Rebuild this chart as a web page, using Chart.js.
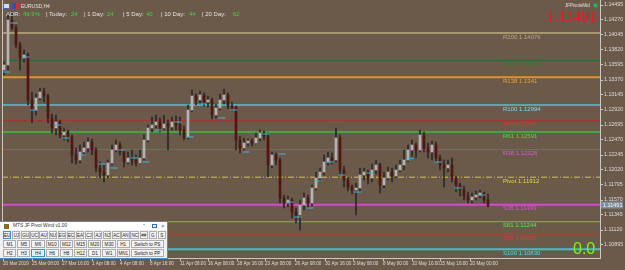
<!DOCTYPE html>
<html>
<head>
<meta charset="utf-8">
<script src="https://cdn.jsdelivr.net/npm/chart.js@4.4.1/dist/chart.umd.min.js"></script>
<style>
  body { margin: 0; background: #6b5a49; font-family: "Liberation Sans", Arial, sans-serif; }
  #wrap { position: relative; width: 625px; height: 270px; overflow: hidden; background: #6b5a49; }
  #priceChart { position: absolute; left: 0; top: 0; }
  .t { position: absolute; white-space: nowrap; line-height: 1; }
  .lbl { color: #e2e2e2; }
  .num { color: #3fd43f; }
  .adr { top: 11px; font-size: 6px; }
  #panel { position: absolute; left: 0; top: 221px; width: 167px; height: 36px; background: #f0f0f0; border: 1px solid #3a8ee6; border-left: none; }
  #panel .title { position: absolute; left: 0; top: 0; width: 167px; height: 8px; background: #fff; }
  .btn { position: absolute; box-sizing: border-box; background: #f3f3f3; border: 1px solid #adadad; color: #222; font-size: 4.6px; text-align: center; line-height: 7px; height: 8.5px; white-space: nowrap; overflow: hidden; }
  .btn.on { border-color: #3c8fdc; background: #e4f0fb; }
</style>
</head>
<body>
<div id="wrap">
  <canvas id="priceChart" width="625" height="270"></canvas>

  <div class="t" style="left:3px;top:3px;width:7px;height:6px;background:#d8d8f0;border:1px solid #5060b0;box-sizing:border-box"></div>
  <div class="t" style="left:12px;top:3px;width:7px;height:6px;background:#3050c0;border-right:3px solid #d03030;box-sizing:border-box"></div>
  <div class="t lbl" style="left:21px;top:4px;font-size:5px">EURUSD,H4</div>

  <div class="t lbl adr" style="left:6px">ADR:</div>
  <div class="t num adr" style="left:23px">49.9%</div>
  <div class="t lbl adr" style="left:46px">| Today:</div>
  <div class="t num adr" style="left:71px">24</div>
  <div class="t lbl adr" style="left:84px">| 1 Day:</div>
  <div class="t num adr" style="left:107px">24</div>
  <div class="t lbl adr" style="left:123px">| 5 Day:</div>
  <div class="t num adr" style="left:146px">40</div>
  <div class="t lbl adr" style="left:161px">| 10 Day:</div>
  <div class="t num adr" style="left:189px">44</div>
  <div class="t lbl adr" style="left:202px">| 20 Day:</div>
  <div class="t num adr" style="left:233px">62</div>

  <div class="t lbl" style="left:565px;top:4px;font-size:4.5px">JFPivotsMtd</div>
  <div class="t" style="left:593px;top:3px;width:5px;height:5px;background:#40b040;border:1px solid #2a6fd0;box-sizing:border-box"></div>
  <div class="t" style="left:547px;top:8px;font-size:15.5px;color:#ff1010;font-family:'Liberation Serif','Times New Roman',serif">1.11491</div>
  <div class="t" style="left:573px;top:241px;font-size:16px;color:#7cfc00">0.0</div>

  <div id="panel">
    <div class="title">
      <div class="t" style="left:4px;top:1.5px;width:5px;height:5px;background:#8a6a20"></div>
      <div class="t" style="left:13px;top:2px;font-size:4.8px;color:#333">MTS JF Pivot Wind v1.00</div>
      <div class="t" style="left:143px;top:1px;font-size:6px;color:#2a6fd0">&#710;</div>
      <div class="t" style="left:152px;top:1.5px;width:5px;height:4px;border:1px solid #2a6fd0;box-sizing:border-box"></div>
      <div class="t" style="left:161px;top:1px;font-size:6px;color:#2a6fd0">&#215;</div>
    </div>
  </div>
</div>
<script>
// EURUSD H4, 20 Mar - 21 May 2019 (one entry per drawn candle)
const firstOpen = 1.1352;
const closes = [
  1.13595, 1.1427, 1.1415, 1.13895, 1.137, 1.13745, 1.1307, 1.1292, 1.131, 1.1319,
  1.1313, 1.128, 1.1265, 1.1274, 1.12545, 1.1259, 1.12515, 1.12245, 1.1217, 1.1229,
  1.1235, 1.1244, 1.1232, 1.1205, 1.1199, 1.11945, 1.12125, 1.1232, 1.12395, 1.1229,
  1.1214, 1.122, 1.1217, 1.12125, 1.122, 1.1247, 1.1265, 1.12695, 1.1274, 1.1265,
  1.1271, 1.12665, 1.1274, 1.12695, 1.1262, 1.12515, 1.1292, 1.1313, 1.1307, 1.13145,
  1.1304, 1.1307, 1.12845, 1.1295, 1.1307, 1.13145, 1.1298, 1.1295, 1.1247, 1.1235,
  1.12425, 1.12455, 1.12425, 1.125, 1.12575, 1.1253, 1.12095, 1.12245, 1.1217, 1.116,
  1.11525, 1.1157, 1.1139, 1.11345, 1.11495, 1.116, 1.11525, 1.1175, 1.119, 1.1199,
  1.1214, 1.122, 1.1217, 1.125, 1.1202, 1.1187, 1.11765, 1.1172, 1.1175, 1.11945,
  1.1199, 1.119, 1.1202, 1.12095, 1.11795, 1.119, 1.1199, 1.1193, 1.1202, 1.12095,
  1.1217, 1.1232, 1.12395, 1.1232, 1.12545, 1.1235, 1.1229, 1.12395, 1.122, 1.12095,
  1.1205, 1.12095, 1.119, 1.11795, 1.1172, 1.1163, 1.1157, 1.11615, 1.11645, 1.11675,
  1.1157, 1.11491
];
const highs = [
  1.1364, 1.14375, 1.1439, 1.14195, 1.1394, 1.1382, 1.13775, 1.1319, 1.1316, 1.1325,
  1.1325, 1.1316, 1.1286, 1.12845, 1.1277, 1.1265, 1.1262, 1.12545, 1.1235, 1.12395,
  1.1244, 1.125, 1.12485, 1.1235, 1.1214, 1.12095, 1.1217, 1.12395, 1.1247, 1.1244,
  1.1232, 1.1229, 1.1232, 1.12245, 1.1232, 1.12545, 1.12695, 1.12815, 1.12845, 1.128,
  1.12845, 1.1277, 1.12815, 1.1283, 1.12815, 1.1268, 1.12995, 1.1322, 1.1316, 1.13205,
  1.13175, 1.1313, 1.131, 1.1301, 1.1316, 1.13235, 1.13175, 1.1304, 1.1298, 1.1253,
  1.125, 1.12485, 1.12485, 1.12575, 1.1262, 1.12605, 1.12575, 1.1229, 1.12275, 1.122,
  1.11645, 1.1163, 1.116, 1.1145, 1.1157, 1.11675, 1.11645, 1.11795, 1.1199, 1.1205,
  1.12245, 1.1229, 1.12275, 1.1265, 1.12545, 1.1208, 1.11915, 1.11795, 1.11825, 1.1205,
  1.1205, 1.1202, 1.1211, 1.1217, 1.12125, 1.1199, 1.12065, 1.1205, 1.12095, 1.1217,
  1.1232, 1.12395, 1.1247, 1.12425, 1.1262, 1.1259, 1.12425, 1.12455, 1.1244, 1.12245,
  1.1217, 1.1217, 1.122, 1.1193, 1.11825, 1.1178, 1.1169, 1.11675, 1.11705, 1.1172,
  1.1169, 1.1166
];
const lows = [
  1.13445, 1.1352, 1.1412, 1.1385, 1.1352, 1.1364, 1.12995, 1.12725, 1.12845, 1.1307,
  1.1304, 1.12725, 1.12575, 1.12545, 1.125, 1.1247, 1.1244, 1.12125, 1.1211, 1.12125,
  1.12245, 1.1229, 1.12245, 1.1199, 1.119, 1.1184, 1.119, 1.12095, 1.1229, 1.12245,
  1.12065, 1.1211, 1.12095, 1.1208, 1.1211, 1.1217, 1.1244, 1.1259, 1.1265, 1.1259,
  1.1262, 1.1232, 1.1262, 1.1262, 1.12545, 1.1247, 1.12485, 1.1289, 1.12995, 1.1301,
  1.1298, 1.12965, 1.12785, 1.128, 1.1292, 1.1301, 1.12935, 1.12905, 1.1232, 1.12275,
  1.1232, 1.1238, 1.1238, 1.1241, 1.12455, 1.1247, 1.11915, 1.1205, 1.12095, 1.11525,
  1.1145, 1.11465, 1.113, 1.11225, 1.1112, 1.1142, 1.1145, 1.1148, 1.1172, 1.1184,
  1.11945, 1.12095, 1.1211, 1.1214, 1.11945, 1.11765, 1.11705, 1.1166, 1.11345, 1.1169,
  1.1187, 1.1181, 1.1184, 1.1196, 1.11675, 1.1175, 1.1187, 1.1184, 1.119, 1.1199,
  1.1202, 1.1214, 1.1223, 1.122, 1.1229, 1.1229, 1.122, 1.1217, 1.1214, 1.1202,
  1.11765, 1.1199, 1.1184, 1.1169, 1.1163, 1.1157, 1.11525, 1.11525, 1.1157, 1.116,
  1.11525, 1.11465
];
const opens = [firstOpen].concat(closes.slice(0, -1));

// small cyan dashes next to the candles
const markerIdx = [0, 2, 5, 7, 13, 15, 19, 24, 27, 29, 32, 35, 38, 43, 46, 49, 54, 57, 60, 65,
  69, 71, 73, 76, 78, 81, 84, 88, 91, 101, 108, 113, 119];
const markerPrice = [1.1349, 1.14225, 1.13715, 1.1292, 1.12695, 1.125, 1.12245, 1.1211, 1.1205, 1.1232,
  1.122, 1.1214, 1.1262, 1.1274, 1.12515, 1.1301, 1.128, 1.1292, 1.1229, 1.1256,
  1.1226, 1.1154, 1.11315, 1.1145, 1.11855, 1.1214, 1.11945, 1.1169, 1.11975, 1.1219,
  1.1214, 1.1175, 1.11645];

// pivot levels
const levelValues = [1.14076, 1.13663, 1.1341, 1.12994, 1.1276, 1.12591, 1.12326, 1.11912, 1.11499, 1.11244, 1.11062, 1.10830];
const levelLabels = ['R200 1.14076', 'R161 1.13663', 'R138 1.1341', 'R100 1.12994', 'R78 1.1276', 'R61 1.12591',
  'R38 1.12326', 'Pivot 1.11912', 'S38 1.11499', 'S61 1.11244', 'S78 1.11062', 'S100 1.10830'];
const levelColors = ['#a8966c', '#2f6a2f', '#e0961e', '#48b0b0', '#b4302a', '#3caa3c', '#b040b0', '#d8c828', '#e040e0', '#50d050', '#d03030', '#30c8c8'];
const levelText = ['#b8a880', '#2d7a2d', '#e8a030', '#70e0e0', '#e03030', '#40e040', '#e050e0', '#e8d840', '#e050e0', '#50f050', '#f03030', '#40e0e0'];
const levelWidth = [2, 1, 2, 2, 1, 2, 1, 1, 2, 1, 1, 2];

// axes
const priceTicks = [1.14495, 1.14270, 1.14045, 1.13820, 1.13595, 1.13370, 1.13145, 1.12920, 1.12695,
  1.12470, 1.12245, 1.12020, 1.11795, 1.11570, 1.11345, 1.11120, 1.10895];
const timeTickPos = [-0.25, 7, 14.5, 22, 29, 36.5, 44, 51, 58.25, 65.25, 72.75, 80.25, 87.25, 94.75, 102, 109, 116.5];
const timeTickText = ['20 Mar 2019', '25 Mar 08:00', '27 Mar 16:00', '1 Apr 08:00', '4 Apr 08:00', '8 Apr 16:00',
  '11 Apr 08:00', '16 Apr 08:00', '18 Apr 16:00', '23 Apr 08:00', '26 Apr 08:00', '30 Apr 16:00',
  '3 May 08:00', '8 May 00:00', '10 May 16:00', '15 May 16:00', '20 May 00:00'];

// panel buttons
const row1 = ['EU', 'UJ', 'GU', 'UC', 'AU', 'NU', 'EG', 'EC', 'EA', 'CJ', 'AJ', 'NJ', 'AC', 'AN', 'NC', '##', 'G', 'S'];
const row2 = ['M1', 'M5', 'M6', 'M10', 'M12', 'M15', 'M20', 'M30', 'H1', 'Switch to PS'];
const row3 = ['H2', 'H3', 'H4', 'H6', 'H8', 'H12', 'D1', 'W1', 'MN1', 'Switch to PP'];

const panel = document.getElementById('panel');
function addBtn(text, left, top, width, on) {
  const b = document.createElement('div');
  b.className = 'btn' + (on ? ' on' : '');
  b.style.left = left + 'px';
  b.style.top = top + 'px';
  b.style.width = width + 'px';
  b.textContent = text;
  panel.appendChild(b);
}
row1.forEach((t, k) => addBtn(t, 3 + k * 9.1, 8.5, 8.4, t === 'EU'));
row2.forEach((t, k) => addBtn(t, 3 + k * 14.2, 17.5, k === 9 ? 33 : 13.3, false));
row3.forEach((t, k) => addBtn(t, 3 + k * 14.2, 26.5, k === 9 ? 33 : 13.3, t === 'H4'));

const overlay = {
  id: 'overlay',
  afterDatasetsDraw(chart) {
    const { ctx, chartArea: a, scales: { y } } = chart;
    ctx.save();
    ctx.strokeStyle = '#c8c8c8';
    ctx.lineWidth = 1;
    ctx.beginPath();
    ctx.moveTo(a.left + 0.5, a.top);
    ctx.lineTo(a.left + 0.5, a.bottom + 0.5);
    ctx.lineTo(a.right + 0.5, a.bottom + 0.5);
    ctx.stroke();

    ctx.font = '6px "Liberation Sans", Arial';
    ctx.textBaseline = 'middle';
    levelLabels.forEach((t, k) => {
      ctx.fillStyle = levelText[k];
      ctx.fillText(t, 503, y.getPixelForValue(levelValues[k]) + 4);
    });

    const last = closes[closes.length - 1];
    const py = Math.round(y.getPixelForValue(last));
    ctx.fillStyle = '#7f8fa2';
    ctx.fillRect(a.right + 1, py - 3.5, 22, 7);
    ctx.fillStyle = '#f4f4f4';
    ctx.font = '5.5px "Liberation Sans", Arial';
    ctx.fillText(last.toFixed(5), a.right + 3, py);
    ctx.restore();
  }
};

const ctx = document.getElementById('priceChart');
new Chart(ctx, {
  type: 'bar',
  data: {
    datasets: [
      {
        type: 'line',
        data: markerIdx.map((v, i) => ({ x: v + 0.5, y: markerPrice[i] })),
        showLine: false,
        pointStyle: 'line',
        pointRadius: 3.5,
        pointBorderColor: '#38b6e8',
        pointBorderWidth: 1,
        order: 0
      },
      {
        data: closes.map((c, i) => ({ x: i, y: [opens[i], c] })),
        backgroundColor: closes.map((c, i) => c >= opens[i] ? '#b4b4b4' : '#4f1612'),
        barThickness: 2,
        grouped: false,
        order: 1
      },
      {
        data: closes.map((c, i) => ({ x: i, y: [lows[i], highs[i]] })),
        backgroundColor: '#2a2a2a',
        barThickness: 1,
        grouped: false,
        order: 2
      },
      ...levelValues.map((v, k) => ({
        type: 'line',
        data: [{ x: -0.5, y: v }, { x: 149, y: v }],
        borderColor: levelColors[k],
        borderWidth: levelWidth[k],
        borderDash: k === 7 ? [6, 2, 1, 2] : [],
        pointRadius: 0,
        order: 3
      }))
    ]
  },
  options: {
    responsive: false,
    animation: false,
    layout: { autoPadding: false, padding: { left: 2, top: 0, right: 0, bottom: 0 } },
    plugins: { legend: { display: false }, tooltip: { enabled: false } },
    scales: {
      x: {
        type: 'linear',
        offset: false,
        min: -0.5,
        max: 149,
        afterBuildTicks: s => { s.ticks = timeTickPos.map(v => ({ value: v })); },
        afterFit: s => { s.height = 12; s.paddingLeft = 0; s.paddingRight = 0; },
        grid: { drawOnChartArea: false, tickLength: 3, color: '#c8c8c8', offset: false },
        border: { color: '#c8c8c8' },
        ticks: {
          autoSkip: false, maxRotation: 0, align: 'start', padding: 0,
          color: '#dcdcdc', font: { size: 4.6 },
          callback: (v, i) => timeTickText[i]
        }
      },
      y: {
        type: 'linear',
        position: 'right',
        min: 1.1070,
        max: 1.1457,
        afterBuildTicks: s => { s.ticks = priceTicks.map(v => ({ value: v })); },
        afterFit: s => { s.width = 25; s.paddingTop = 0; s.paddingBottom = 0; },
        grid: { drawOnChartArea: false, tickLength: 3, color: '#c8c8c8' },
        border: { color: '#c8c8c8' },
        ticks: { padding: 1, color: '#dcdcdc', font: { size: 5.3 }, callback: v => v.toFixed(5) }
      }
    }
  },
  plugins: [overlay]
});
</script>
</body>
</html>
